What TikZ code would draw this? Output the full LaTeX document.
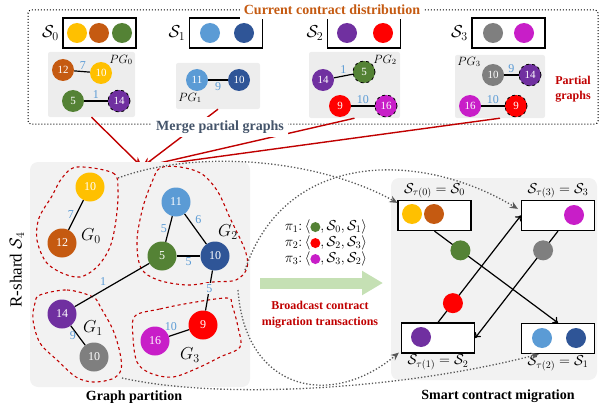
\documentclass[tikz,border=0pt]{standalone}
\usepackage{fontspec}
\setmainfont{Liberation Serif}
\usetikzlibrary{arrows.meta,positioning}
\definecolor{cyel}{HTML}{FFC000}
\definecolor{cbrn}{HTML}{C55A11}
\definecolor{cgrn}{HTML}{548235}
\definecolor{clbl}{HTML}{5B9BD5}
\definecolor{cdbl}{HTML}{2F5597}
\definecolor{cpur}{HTML}{7030A0}
\definecolor{cred}{HTML}{FF0000}
\definecolor{cgry}{HTML}{7F7F7F}
\definecolor{cmag}{HTML}{C81EC8}
\definecolor{dred}{HTML}{C00000}
\definecolor{dgray}{HTML}{595959}
\definecolor{slate}{HTML}{44546A}
\definecolor{wblue}{HTML}{5B9BD5}
\definecolor{bgbox}{HTML}{F2F2F2}
\definecolor{pgbg}{HTML}{EDEDED}
\definecolor{arrgreen}{HTML}{C5E0B4}
\newcommand{\tokdot}[1]{\tikz[baseline=-0.55ex]\fill[#1] (0,0) circle (5pt);}
\begin{document}
\begin{tikzpicture}[x=1pt,y=-1pt,
    tok/.style={circle, fill=#1, minimum size=20pt, inner sep=0pt},
    pgn/.style={circle, fill=#1, minimum size=22pt, inner sep=0pt, text=white, font=\fontsize{11}{11}\selectfont},
    ghost/.style={draw=black, dashed, line width=0.8pt},
    gn/.style={circle, fill=#1, minimum size=29pt, inner sep=0pt, text=white, font=\fontsize{12}{12}\selectfont},
    wt/.style={text=wblue, font=\fontsize{12}{12}\selectfont, inner sep=1.5pt},
    shardbox/.style={draw, line width=1.2pt, fill=white, minimum width=73pt, minimum height=30pt, inner sep=0pt},
    pgbox/.style={fill=pgbg, rounded corners=2pt, inner sep=0pt},
    part/.style={draw=dred, dashed, line width=1.1pt},
    mig/.style={dotted, line width=1.3pt, draw=dgray, -{Stealth[length=8pt,width=7pt]}},
    merge/.style={draw=dred, line width=1.4pt, -{Stealth[length=10pt,width=8pt]}},
    edge/.style={line width=1.2pt},
    move/.style={line width=1.2pt, -{To[length=5pt,width=8pt]}},
    title/.style={font=\bfseries\fontsize{14}{14}\selectfont}]
  \useasboundingbox (0,0) rectangle (600,412);

  % current distribution
  \draw[dotted, line width=1pt, rounded corners=3pt] (28,10) rectangle (598,124);
  \node[shardbox] (s0) at (99.5,33) {};
  \node[shardbox] (s1) at (226,33) {};
  \node[shardbox] (s2) at (364,33) {};
  \node[shardbox] (s3) at (508.5,33) {};
  \node[left=0pt of s0, font=\fontsize{17}{17}\selectfont] {$\mathcal{S}_0$};
  \node[left=0pt of s1, font=\fontsize{17}{17}\selectfont] {$\mathcal{S}_1$};
  \node[left=0pt of s2, font=\fontsize{17}{17}\selectfont] {$\mathcal{S}_2$};
  \node[left=0pt of s3, font=\fontsize{17}{17}\selectfont] {$\mathcal{S}_3$};
  \node[tok=cyel] (k0a) at (77,33) {};
  \node[tok=cbrn] (k0b) at (99,33) {};
  \node[tok=cgrn] (k0c) at (122,33) {};
  \node[tok=clbl] (k1a) at (210,33) {};
  \node[tok=cdbl] (k1b) at (244,33) {};
  \node[tok=cpur] (k2a) at (347,33) {};
  \node[tok=cred] (k2b) at (383,33) {};
  \node[tok=cgry] (k3a) at (493,33) {};
  \node[tok=cmag] (k3b) at (524,33) {};

  % partial graphs
  \node[pgbox, minimum width=87pt, minimum height=65pt] (pg0) at (91.5,84.5) {};
  \node[pgbox, minimum width=84pt, minimum height=46pt] (pg1) at (218,86) {};
  \node[pgbox, minimum width=91pt, minimum height=66pt] (pg2) at (354.5,85) {};
  \node[pgbox, minimum width=90pt, minimum height=63pt] (pg3) at (500,86.5) {};
  \node[font=\fontsize{12}{12}\selectfont] (pgl0) at (121,60) {$PG_0$};
  \node[font=\fontsize{12}{12}\selectfont] (pgl1) at (190,98) {$PG_1$};
  \node[font=\fontsize{12}{12}\selectfont] (pgl2) at (385,60) {$PG_2$};
  \node[font=\fontsize{12}{12}\selectfont] (pgl3) at (469,62) {$PG_3$};

  \node[pgn=cbrn] (p0a) at (63,70) {12};
  \node[pgn=cyel] (p0b) at (101,73) {10};
  \node[pgn=cgrn] (p0c) at (73,101) {5};
  \node[pgn=cpur, ghost] (p0d) at (119,101) {14};
  \draw[edge] (p0a) -- (p0b) node[wt, pos=0.55, above] {7};
  \draw[edge] (p0c) -- (p0d) node[wt, midway, above] {1};

  \node[pgn=clbl] (p1a) at (197,80) {11};
  \node[pgn=cdbl] (p1b) at (239,80) {10};
  \draw[edge] (p1a) -- (p1b) node[wt, midway, below] {9};

  \node[pgn=cpur] (p2a) at (323,80) {14};
  \node[pgn=cgrn, ghost] (p2b) at (364,72) {5};
  \node[pgn=cred] (p2c) at (340,106) {9};
  \node[pgn=cmag, ghost] (p2d) at (386,106) {16};
  \draw[edge] (p2a) -- (p2b) node[wt, midway, above] {1};
  \draw[edge] (p2c) -- (p2d) node[wt, midway, above] {10};

  \node[pgn=cgry] (p3a) at (493,75) {10};
  \node[pgn=cpur, ghost] (p3b) at (530,75) {14};
  \node[pgn=cmag] (p3c) at (470,106) {16};
  \node[pgn=cred, ghost] (p3d) at (516,106) {9};
  \draw[edge] (p3a) -- (p3b) node[wt, midway, above] {9};
  \draw[edge] (p3c) -- (p3d) node[wt, midway, above] {10};

  \node[font=\bfseries\fontsize{12}{15}\selectfont, text=dred, align=center] (pglab) at (573,89) {Partial\\graphs};

  % merge
  \coordinate (mergept) at (142,167);
  \draw[merge] (pg0.south) -- (mergept);
  \draw[merge] (pg1.south) -- (mergept);
  \draw[merge] (pg2.south) -- (mergept);
  \draw[merge] (pg3.south) -- (mergept);
  \node[title, text=cbrn, fill=white, inner sep=4pt] (tcur) at (332,10) {Current contract distribution};
  \node[title, text=slate, fill=white, inner sep=4pt] (tmerge) at (220,127) {Merge partial graphs};

  % graph partition
  \fill[bgbox, rounded corners=8pt] (30,162) rectangle (250,387);
  \node[rotate=90, font=\fontsize{17}{17}\selectfont] (rs) at (17,270) {R-shard $\mathcal{S}_4$};

  \draw[part] plot[smooth cycle, tension=0.55] coordinates {(77,167) (113,173) (118,190) (116,220) (110,247) (97,267) (80,277) (62,273) (46,262) (37,240) (39,218) (52,196) (62,178)};
  \draw[part] plot[smooth cycle, tension=0.55] coordinates {(160,168) (180,167) (202,174) (218,192) (230,218) (245,250) (247,268) (236,280) (213,282) (187,285) (158,280) (141,268) (137,240) (143,207) (152,182)};
  \draw[part] plot[smooth cycle, tension=0.55] coordinates {(40,295) (67,290) (93,297) (101,308) (113,330) (120,353) (121,370) (112,379) (93,382) (76,377) (57,360) (40,343) (33,320) (35,303)};
  \draw[part] plot[smooth cycle, tension=0.55] coordinates {(135,316) (160,309) (190,303) (227,298) (232,305) (238,327) (240,347) (220,357) (200,367) (173,377) (150,373) (137,362) (133,337)};

  \node[gn=cyel] (n10y) at (90,187) {10};
  \node[gn=cbrn] (n12) at (62,243) {12};
  \node[gn=clbl] (n11) at (176,202) {11};
  \node[gn=cgrn] (n5) at (162,256) {5};
  \node[gn=cdbl] (n10b) at (215,256) {10};
  \node[gn=cpur] (n14) at (62,314) {14};
  \node[gn=cgry] (n10g) at (94,357) {10};
  \node[gn=cred] (n9) at (203,325) {9};
  \node[gn=cmag] (n16) at (155,341) {16};

  \draw[edge] (n10y) -- (n12) node[wt, midway, left] {7};
  \draw[edge] (n11) -- (n5) node[wt, midway, left] {5};
  \draw[edge] (n11) -- (n10b) node[wt, pos=0.4, above right] {6};
  \draw[edge] (n5) -- (n10b) node[wt, midway, below] {5};
  \draw[edge] (n5) -- (n14) node[wt, pos=0.55, above left] {1};
  \draw[edge] (n14) -- (n10g) node[wt, midway, left] {9};
  \draw[edge] (n10b) -- (n9) node[wt, pos=0.45, fill=bgbox] {5};
  \draw[edge] (n9) -- (n16) node[wt, midway, above left] {10};

  \node[font=\fontsize{18}{18}\selectfont] (lg0) at (91,236) {$G_0$};
  \node[font=\fontsize{18}{18}\selectfont] (lg2) at (228,232) {$G_2$};
  \node[font=\fontsize{18}{18}\selectfont] (lg1) at (93,328) {$G_1$};
  \node[font=\fontsize{18}{18}\selectfont] (lg3) at (190,355) {$G_3$};
  \node[title] (tgp) at (134,397) {Graph partition};

  % broadcast
  \node[font=\fontsize{14}{14}\selectfont] (pi1) at (326,227) {$\pi_1\colon\langle$\tokdot{cgrn}$,\mathcal{S}_0,\mathcal{S}_1\rangle$};
  \node[font=\fontsize{14}{14}\selectfont] (pi2) at (326,243) {$\pi_2\colon\langle$\tokdot{cred}$,\mathcal{S}_2,\mathcal{S}_3\rangle$};
  \node[font=\fontsize{14}{14}\selectfont] (pi3) at (326,259) {$\pi_3\colon\langle$\tokdot{cmag}$,\mathcal{S}_3,\mathcal{S}_2\rangle$};
  \coordinate (bc0) at (260,283);
  \coordinate (bc1) at (383,283);
  \draw[arrgreen, line width=11pt, -{Triangle[length=21pt,width=23pt]}] (bc0) -- (bc1);
  \node[font=\bfseries\fontsize{12}{16}\selectfont, text=dred, align=center] (tbc) at (320,315) {Broadcast contract\\migration transactions};

  % smart contract migration
  \fill[bgbox, rounded corners=8pt] (391,178) rectangle (597,380);
  \node[shardbox] (t0) at (434.5,215.5) {};
  \node[shardbox] (t3) at (558,215.5) {};
  \node[shardbox] (t1) at (438,338) {};
  \node[shardbox] (t2) at (558,338.5) {};
  \node[tok=cyel] (r0a) at (412,214) {};
  \node[tok=cbrn] (r0b) at (434,214) {};
  \node[tok=cmag] (r3a) at (574,215) {};
  \node[tok=cpur] (r1a) at (421,337) {};
  \node[tok=clbl] (r2a) at (542,338) {};
  \node[tok=cdbl] (r2b) at (576,338) {};
  \node[above=-2pt of t0, font=\fontsize{14}{14}\selectfont] (lt0) {$\mathcal{S}_{\tau(0)}=\mathcal{S}_0$};
  \node[above=-2pt of t3, font=\fontsize{14}{14}\selectfont] (lt3) {$\mathcal{S}_{\tau(3)}=\mathcal{S}_3$};
  \node[below=-2pt of t1, font=\fontsize{14}{14}\selectfont] (lt1) {$\mathcal{S}_{\tau(1)}=\mathcal{S}_2$};
  \node[below=-2pt of t2, font=\fontsize{14}{14}\selectfont] (lt2) {$\mathcal{S}_{\tau(2)}=\mathcal{S}_1$};

  \draw[move] (t0.south) -- (t2.north) node[tok=cgrn, pos=0.21] {};
  \draw[move] (t3.south) -- (t1.east) node[tok=cgry, pos=0.18] {};
  \draw[move] (t1.north) -- (t3.west) node[tok=cred, pos=0.18] {};
  \node[title] (tsm) at (498,396) {Smart contract migration};

  % migration of sub-graphs
  \coordinate (g0out) at (118,178);
  \coordinate (g2out) at (245,270);
  \coordinate (g3out) at (238,290);
  \coordinate (g1out) at (122,378);
  \draw[mig] (g0out) .. controls (200,148) and (320,160) .. ([yshift=-3pt]t0.north west);
  \draw[mig] (g2out) .. controls (285,150) and (420,150) .. ([shift={(-3pt,-9pt)}]t3.north west);
  \draw[mig] (g3out) .. controls (245,390) and (330,410) .. ([shift={(-2pt,1pt)}]t1.south west);
  \draw[mig] (g1out) .. controls (220,400) and (400,390) .. ([xshift=18pt]t2.south west);
\end{tikzpicture}
\end{document}
